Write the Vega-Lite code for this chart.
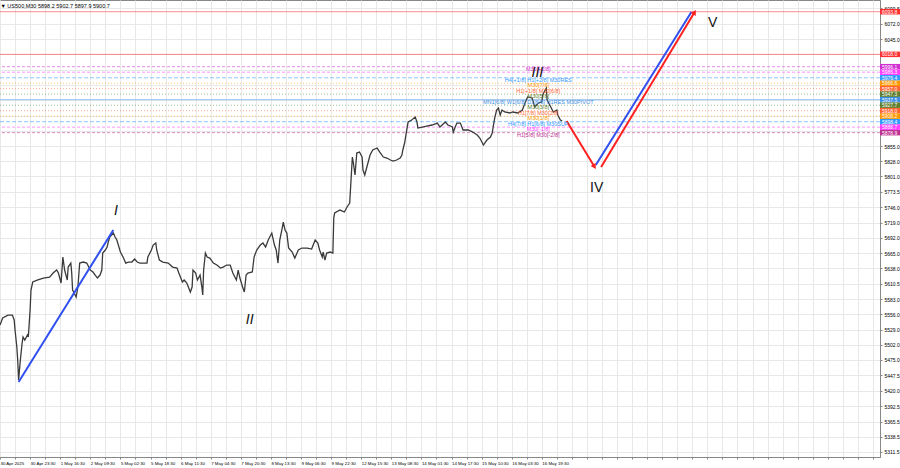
{
 "$schema": "https://vega.github.io/schema/vega-lite/v6.json",
 "width": 880, "height": 457,
 "autosize": {"type": "none"},
 "padding": {"left": 0, "top": 0, "right": 20, "bottom": 11},
 "background": "white",
 "config": {"view": {"stroke": "#888"}, "font": "Liberation Sans"},
 "title": {"text": "▼ US500,M30  5898.2 5902.7 5897.9 5900.7", "anchor": "start", "orient": "top", "offset": -9, "fontSize": 5.5, "fontWeight": "normal", "color": "#000", "dx": 3, "font": "Liberation Sans"},
 "datasets": {
  "price": [
   {"t":0,"p":5537.1},{"t":3,"p":5549.5},{"t":9,"p":5554.8},{"t":14,"p":5554.8},{"t":16,"p":5546.0},{"t":17,"p":5528.2},{"t":19,"p":5498.0},{"t":20,"p":5474.9},{"t":21,"p":5439.3},{"t":23,"p":5474.9},{"t":25,"p":5505.1},{"t":26,"p":5515.8},{"t":28,"p":5510.4},{"t":31,"p":5519.3},{"t":32,"p":5515.8},{"t":34,"p":5563.7},{"t":35,"p":5599.3},{"t":37,"p":5613.5},{"t":42,"p":5617.0},{"t":49,"p":5620.6},{"t":56,"p":5622.3},{"t":60,"p":5629.5},{"t":64,"p":5634.8},{"t":66,"p":5629.5},{"t":69,"p":5611.7},{"t":71,"p":5657.9},{"t":73,"p":5634.8},{"t":76,"p":5617.0},{"t":77,"p":5640.1},{"t":80,"p":5647.2},{"t":81,"p":5629.5},{"t":82,"p":5599.3},{"t":86,"p":5586.8},{"t":88,"p":5604.6},{"t":90,"p":5647.2},{"t":94,"p":5649.0},{"t":98,"p":5647.2},{"t":102,"p":5634.8},{"t":105,"p":5631.3},{"t":110,"p":5620.6},{"t":113,"p":5625.9},{"t":115,"p":5634.8},{"t":116,"p":5665.0},{"t":119,"p":5670.4},{"t":121,"p":5675.7},{"t":122,"p":5682.8},{"t":124,"p":5693.4},{"t":128,"p":5700.5},{"t":130,"p":5693.4},{"t":132,"p":5688.1},{"t":136,"p":5666.8},{"t":139,"p":5657.9},{"t":142,"p":5647.2},{"t":145,"p":5649.0},{"t":149,"p":5649.0},{"t":152,"p":5654.4},{"t":155,"p":5649.0},{"t":158,"p":5647.2},{"t":162,"p":5647.2},{"t":166,"p":5647.2},{"t":167,"p":5657.9},{"t":171,"p":5670.4},{"t":173,"p":5679.2},{"t":176,"p":5682.8},{"t":177,"p":5670.4},{"t":180,"p":5652.6},{"t":184,"p":5649.0},{"t":190,"p":5647.2},{"t":195,"p":5640.1},{"t":200,"p":5638.4},{"t":202,"p":5629.5},{"t":206,"p":5613.5},{"t":208,"p":5617.0},{"t":211,"p":5611.7},{"t":215,"p":5595.7},{"t":217,"p":5604.6},{"t":218,"p":5634.8},{"t":221,"p":5629.5},{"t":223,"p":5617.0},{"t":226,"p":5625.9},{"t":228,"p":5604.6},{"t":229,"p":5590.4},{"t":230,"p":5634.8},{"t":232,"p":5665.0},{"t":234,"p":5657.9},{"t":237,"p":5656.1},{"t":241,"p":5647.2},{"t":245,"p":5643.7},{"t":249,"p":5638.4},{"t":252,"p":5640.1},{"t":256,"p":5643.7},{"t":260,"p":5643.7},{"t":263,"p":5629.5},{"t":267,"p":5617.0},{"t":269,"p":5634.8},{"t":271,"p":5620.6},{"t":274,"p":5604.6},{"t":276,"p":5595.7},{"t":278,"p":5625.9},{"t":280,"p":5629.5},{"t":285,"p":5631.3},{"t":287,"p":5657.9},{"t":290,"p":5670.4},{"t":294,"p":5679.2},{"t":297,"p":5682.8},{"t":300,"p":5675.7},{"t":303,"p":5688.1},{"t":307,"p":5700.5},{"t":310,"p":5679.2},{"t":312,"p":5670.4},{"t":314,"p":5647.2},{"t":316,"p":5688.1},{"t":319,"p":5711.2},{"t":320,"p":5720.1},{"t":322,"p":5705.9},{"t":324,"p":5700.5},{"t":326,"p":5673.9},{"t":330,"p":5666.8},{"t":333,"p":5656.1},{"t":337,"p":5670.4},{"t":341,"p":5673.9},{"t":347,"p":5673.9},{"t":352,"p":5672.1},{"t":356,"p":5688.1},{"t":359,"p":5682.8},{"t":361,"p":5670.4},{"t":364,"p":5657.9},{"t":365,"p":5666.8},{"t":367,"p":5652.6},{"t":369,"p":5665.0},{"t":373,"p":5666.8},{"t":376,"p":5665.0},
   {"t":377,"p":5727.2},{"t":378,"p":5736.1},{"t":384,"p":5741.4},{"t":389,"p":5737.9},{"t":392,"p":5746.8},{"t":395,"p":5753.9},{"t":398,"p":5835.6},{"t":399,"p":5826.7},{"t":401,"p":5803.6},{"t":403,"p":5842.7},{"t":406,"p":5844.5},{"t":409,"p":5835.6},{"t":410,"p":5812.5},{"t":412,"p":5803.6},{"t":415,"p":5821.4},{"t":418,"p":5839.2},{"t":421,"p":5848.1},{"t":426,"p":5851.6},{"t":429,"p":5844.5},{"t":433,"p":5835.6},{"t":437,"p":5833.8},{"t":441,"p":5830.3},{"t":444,"p":5828.5},{"t":448,"p":5830.3},{"t":452,"p":5833.8},{"t":454,"p":5839.2},{"t":455,"p":5848.1},{"t":457,"p":5860.5},{"t":460,"p":5888.9},{"t":461,"p":5897.8},{"t":465,"p":5901.4},{"t":469,"p":5906.5},{"t":471,"p":5897.8},{"t":472,"p":5887.1},{"t":477,"p":5888.9},{"t":482,"p":5890.7},{"t":488,"p":5892.5},{"t":494,"p":5896.0},{"t":497,"p":5888.9},{"t":503,"p":5897.8},{"t":506,"p":5892.5},{"t":511,"p":5888.9},{"t":512,"p":5880.0},{"t":516,"p":5896.0},{"t":520,"p":5896.0},{"t":523,"p":5883.6},{"t":529,"p":5883.6},{"t":534,"p":5880.0},{"t":539,"p":5874.7},{"t":542,"p":5869.4},{"t":546,"p":5856.9},{"t":550,"p":5865.8},{"t":554,"p":5871.2},{"t":556,"p":5878.2},{"t":557,"p":5888.9},{"t":559,"p":5906.5},{"t":561,"p":5919.1},{"t":563,"p":5922.7},{"t":565,"p":5910.2},{"t":567,"p":5919.1},{"t":570,"p":5915.6},{"t":576,"p":5913.8},{"t":579,"p":5915.6},{"t":585,"p":5913.8},{"t":590,"p":5919.1},{"t":593,"p":5931.6},{"t":596,"p":5942.3},{"t":601,"p":5940.5},{"t":604,"p":5924.5},{"t":608,"p":5931.6},{"t":612,"p":5933.4},{"t":613,"p":5945.8},{"t":617,"p":5958.2},{"t":618,"p":5936.9},{"t":621,"p":5928.0},{"t":625,"p":5915.6},{"t":629,"p":5919.1},{"t":630,"p":5910.2},{"t":633,"p":5901.4},{"t":635,"p":5899.6}
  ],
  "levels": [
   {"p":6093.8,"lvl":"T1","label":""},
   {"p":6018.0,"lvl":"T2","label":""},
   {"p":5996.1,"lvl":"p2","label":"M30[+2/8]"},
   {"p":5986.3,"lvl":"p1","label":""},
   {"p":5976.4,"lvl":"8","label":"H4[+1/8] H1[+2/8] M30RES"},
   {"p":5966.6,"lvl":"7","label":"M30[7/8]"},
   {"p":5957.0,"lvl":"6","label":"H1[+1/8] M30[6/8]"},
   {"p":5947.3,"lvl":"5","label":"M30[5/8]"},
   {"p":5937.5,"lvl":"4","label":"MN1[6/8] W1[6/8] D1[6/8] H1RES M30PIVOT"},
   {"p":5927.7,"lvl":"3","label":"M30[3/8]"},
   {"p":5918.0,"lvl":"2","label":"H1[7/8] M30[2/8]"},
   {"p":5908.2,"lvl":"1","label":"M30[1/8]"},
   {"p":5898.4,"lvl":"0","label":"H4[7/8] H1[6/8] M30SUP"},
   {"p":5888.7,"lvl":"m1","label":"M30[-1/8]"},
   {"p":5878.9,"lvl":"m2","label":"H1[5/8] M30[-2/8]"}
  ],
  "blue": [
   {"seg":"I","t":21,"p":5435.8},{"seg":"I","t":128,"p":5705.9},
   {"seg":"V","t":673,"p":5821.4},{"seg":"V","t":781,"p":6093.3}
  ],
  "red": [
   {"seg":"IV","t":640,"p":5899.6},{"seg":"IV","t":671,"p":5819.6},
   {"seg":"V","t":679,"p":5817.9},{"seg":"V","t":784,"p":6091.5}
  ],
  "romanItalic": [
   {"t":131,"p":5739.7,"txt":"I"},
   {"t":282,"p":5546.0,"txt":"II"},
   {"t":607,"p":5984.9,"txt":"III"}
  ],
  "romanUp": [
   {"t":674,"p":5780.5,"txt":"IV"},
   {"t":805,"p":6073.7,"txt":"V"}
  ]
 },
 "layer": [
  {
   "data": {"name": "levels"},
   "mark": {"type": "rule", "strokeWidth": 1, "opacity": 0.55},
   "encoding": {
    "y": {"field": "p", "type": "quantitative", "title": null},
    "color": {"field": "lvl", "type": "nominal", "legend": null,
      "scale": {"domain": ["T1","T2","p2","p1","8","7","6","5","4","3","2","1","0","m1","m2"],
                "range": ["#ff3030","#ff3030","#d030d0","#ff40ff","#3399ff","#ff9900","#ff6633","#5f7f2f","#3a8ee6","#5f7f2f","#ff6633","#ff9900","#3399ff","#ff40ff","#c03090"]}},
    "strokeDash": {"field": "lvl", "type": "nominal", "legend": null,
      "scale": {"domain": ["T1","T2","p2","p1","8","7","6","5","4","3","2","1","0","m1","m2"],
                "range": [[1,0],[1,0],[3,2],[3,2],[4,2],[1,2],[1,2],[1,2],[1,0],[1,2],[1,2],[1,2],[4,2],[3,2],[3,2]]}}
   }
  },
  {
   "data": {"name": "price"},
   "mark": {"type": "line", "color": "#3a3a3a", "strokeWidth": 1.3, "interpolate": "linear"},
   "encoding": {
    "x": {"field": "t", "type": "quantitative", "title": null,
      "scale": {"domain": [0, 994], "nice": false, "zero": false},
      "axis": {"values": [0,17,34,51,68,85,102,119,136,153,170,187,204,221,238,255,272,289,306,323,340,357,374,391,408,425,442,459,476,493,510,527,544,561,578,595,612,629,646,663,680,697,714,731,748,765,782,799,816,833,850,867,884,901,918,935,952,969,986],
        "tickCount": 500,
        "labelExpr": "datum.value % 34 == 0 && datum.value <= 612 ? ['30 Apr 2025','30 Apr 23:30','1 May 16:30','2 May 09:30','5 May 02:30','5 May 18:30','6 May 11:30','7 May 04:30','7 May 20:30','8 May 13:30','9 May 06:30','9 May 22:30','12 May 15:30','13 May 08:30','14 May 01:30','14 May 17:30','15 May 10:30','16 May 03:30','16 May 19:30'][datum.value / 34] : ''",
        "labelAlign": "left", "labelFontSize": 4.4, "labelColor": "#000", "labelPadding": 2, "labelOverlap": false, "labelFlush": false, "labelBound": false,
        "tickSize": 2, "tickColor": "#888", "domainColor": "#888", "grid": true, "gridColor": "#e8e8e8", "gridWidth": 1}},
    "y": {"field": "p", "type": "quantitative", "title": null,
      "scale": {"domain": [5302.6, 6114.6], "nice": false, "zero": false},
      "axis": {"orient": "right", "values": [6099.5,6072.0,6045.0,6018.0,5990.8,5963.7,5936.5,5909.3,5882.2,5855.0,5828.0,5801.0,5773.5,5746.0,5719.0,5692.0,5665.0,5638.0,5610.5,5583.0,5556.0,5529.0,5502.0,5475.0,5447.5,5420.0,5392.5,5365.5,5338.5,5311.5],
        "tickCount": 500,
        "labelExpr": "(datum.value > 5870 && datum.value < 6020) ? '' : format(datum.value, '.1f')",
        "labelFontSize": 5, "labelColor": "#000", "labelPadding": 2, "labelOverlap": false, "labelBound": false, "labelFlush": false,
        "tickSize": 2, "tickColor": "#888", "domainColor": "#888", "grid": true, "gridColor": "#e8e8e8", "gridWidth": 1}}
   }
  },
  {
   "data": {"name": "blue"},
   "mark": {"type": "line", "color": "#2f4ff0", "strokeWidth": 2},
   "encoding": {
    "x": {"field": "t", "type": "quantitative", "title": null},
    "y": {"field": "p", "type": "quantitative", "title": null},
    "detail": {"field": "seg", "type": "nominal"}
   }
  },
  {
   "data": {"name": "red"},
   "mark": {"type": "line", "color": "#ff2020", "strokeWidth": 2},
   "encoding": {
    "x": {"field": "t", "type": "quantitative", "title": null},
    "y": {"field": "p", "type": "quantitative", "title": null},
    "detail": {"field": "seg", "type": "nominal"}
   }
  },
  {
   "data": {"values": [{"t": 671, "p": 5819.6}]},
   "mark": {"type": "point", "shape": "triangle", "filled": true, "color": "#ff2020", "size": 35, "angle": 149, "opacity": 1},
   "encoding": {
    "x": {"field": "t", "type": "quantitative", "title": null},
    "y": {"field": "p", "type": "quantitative", "title": null}
   }
  },
  {
   "data": {"values": [{"t": 784, "p": 6091.5}]},
   "mark": {"type": "point", "shape": "triangle", "filled": true, "color": "#ff2020", "size": 35, "angle": 31, "opacity": 1},
   "encoding": {
    "x": {"field": "t", "type": "quantitative", "title": null},
    "y": {"field": "p", "type": "quantitative", "title": null}
   }
  },
  {
   "data": {"name": "levels"},
   "transform": [{"filter": "datum.label != ''"}],
   "mark": {"type": "text", "fontSize": 5.5, "align": "center", "baseline": "middle", "dy": 2},
   "encoding": {
    "x": {"datum": 608, "type": "quantitative"},
    "y": {"field": "p", "type": "quantitative", "title": null},
    "text": {"field": "label"},
    "color": {"field": "lvl", "type": "nominal", "legend": null}
   }
  },
  {
   "data": {"name": "romanItalic"},
   "mark": {"type": "text", "fontSize": 14, "fontStyle": "italic", "align": "center", "baseline": "middle", "color": "#111"},
   "encoding": {
    "x": {"field": "t", "type": "quantitative", "title": null},
    "y": {"field": "p", "type": "quantitative", "title": null},
    "text": {"field": "txt"}
   }
  },
  {
   "data": {"name": "romanUp"},
   "mark": {"type": "text", "fontSize": 14, "align": "center", "baseline": "middle", "color": "#111"},
   "encoding": {
    "x": {"field": "t", "type": "quantitative", "title": null},
    "y": {"field": "p", "type": "quantitative", "title": null},
    "text": {"field": "txt"}
   }
  },
  {
   "data": {"name": "levels"},
   "mark": {"type": "tick", "orient": "horizontal", "size": 20, "thickness": 5.5, "opacity": 1},
   "encoding": {
    "x": {"datum": 1005.3, "type": "quantitative"},
    "y": {"field": "p", "type": "quantitative", "title": null},
    "color": {"field": "lvl", "type": "nominal", "legend": null}
   }
  },
  {
   "data": {"name": "levels"},
   "mark": {"type": "text", "fontSize": 5, "align": "left", "baseline": "middle", "color": "white", "dx": 1},
   "encoding": {
    "x": {"datum": 995, "type": "quantitative"},
    "y": {"field": "p", "type": "quantitative", "title": null},
    "text": {"field": "p", "type": "quantitative", "format": ".1f"}
   }
  }
 ]
}
